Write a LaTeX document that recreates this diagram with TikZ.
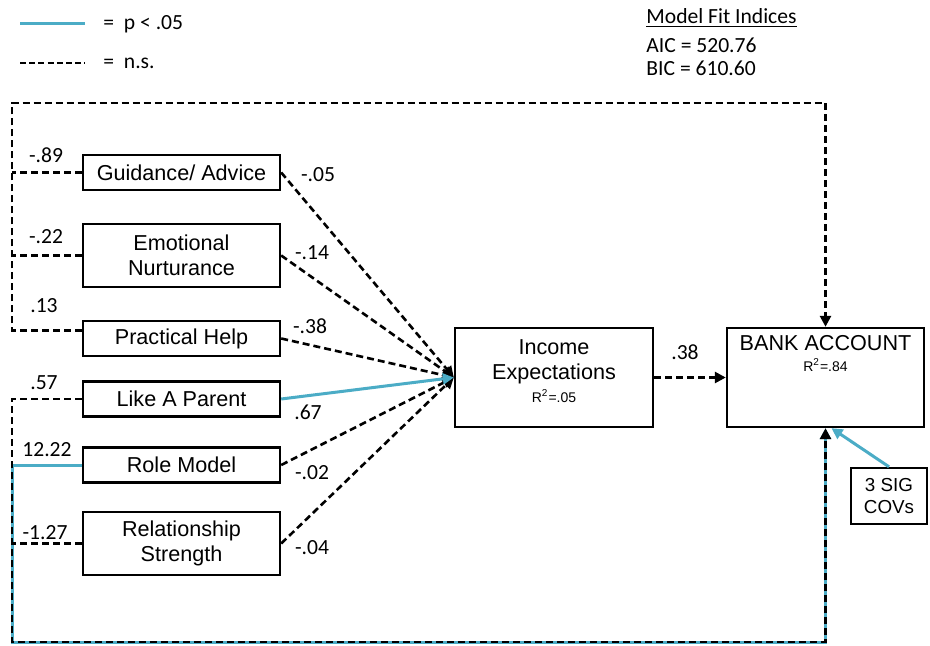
\documentclass[tikz,border=0pt]{standalone}
\usepackage{fontspec}
\setmainfont{Liberation Sans}
\newfontfamily\calibri{Carlito}
\usetikzlibrary{arrows.meta}
\definecolor{sigblue}{RGB}{75,172,198}

\begin{document}
\begin{tikzpicture}[x=0.5pt, y=-0.5pt,
  var/.style={draw=black, line width=1.2pt, minimum width=98.5pt, minimum height=17.5pt,
    inner sep=1pt, align=center, font=\fontsize{10.8}{12.5}\selectfont},
  ns/.style={black, line width=1.3pt, dash pattern=on 3.5pt off 2pt},
  sig/.style={sigblue, line width=1.5pt},
  coef/.style={font=\calibri\fontsize{10.8}{12}\selectfont, inner sep=0pt},
  tip/.style={-{Triangle[length=5.5pt, width=5.5pt]}}]

  \useasboundingbox (0,0) rectangle (930,646);

  % legend
  \coordinate (sigA) at (20,24);
  \coordinate (sigB) at (85,24);
  \coordinate (nsA) at (20,63);
  \coordinate (nsB) at (85,63);
  \draw[sig] (sigA) -- (sigB);
  \draw[black, line width=1.4pt, dash pattern=on 3pt off 1.6pt] (nsA) -- (nsB);
  \node[coef, anchor=west] at (103,24) {= \ p < .05};
  \node[coef, anchor=west] at (103,63) {= \ n.s.};

  \node[coef, anchor=west] at (646,18) {\underline{Model Fit Indices}};
  \node[coef, anchor=west] at (646,45) {AIC = 520.76};
  \node[coef, anchor=west] at (646,68) {BIC = 610.60};

  % predictors
  \node[var] (guide) at (181.5,172.5) {Guidance/ Advice};
  \node[var, minimum height=31.5pt] (emot) at (181.5,255.5) {Emotional\\Nurturance};
  \node[var] (prac) at (181.5,338.5) {Practical Help};
  \node[var] (parent) at (181.5,399) {Like A Parent};
  \node[var] (role) at (181.5,465) {Role Model};
  \node[var, minimum height=31.5pt] (rel) at (181.5,543.5) {Relationship\\Strength};

  % outcomes
  \node[var, minimum width=99pt, minimum height=49.5pt] (income) at (554,377.5) {};
  \node[below=3pt, align=center, font=\fontsize{10.8}{12.5}\selectfont] at (income.north)
    {Income\\Expectations\\[-1pt]{\fontsize{7}{8}\selectfont R\textsuperscript{2}=.05}};
  \node[var, minimum width=98.5pt, minimum height=49.5pt] (bank) at (825.5,377.5) {};
  \node[below=1pt, align=center, font=\fontsize{10.8}{12.5}\selectfont] at (bank.north)
    {BANK ACCOUNT\\[-2pt]{\fontsize{7}{8}\selectfont R\textsuperscript{2}=.84}};
  \node[var, minimum width=38pt, minimum height=28pt, font=\fontsize{9.4}{11}\selectfont]
    (covs) at (889,496) {3 SIG\\COVs};

  % paths to income expectations
  \foreach \src/\val/\lx/\ly in {guide/-.05/318/175, emot/-.14/312/253, prac/-.38/310/326,
    role/-.02/312/473, rel/-.04/312/548}
  {
    \draw[ns, tip] (\src.east) -- (income.west);
    \node[coef] at (\lx,\ly) {\val};
  }
  \draw[sig, tip] (parent.east) -- (income.west);
  \node[coef] at (308,412) {.67};

  \draw[ns, tip] (income) -- (bank);
  \node[coef] at (685,352) {.38};

  % direct paths, top route
  \coordinate (tl) at (12,103);
  \draw[ns] (guide.west) -- (guide.west -| tl);
  \draw[ns] (emot.west) -- (emot.west -| tl);
  \draw[ns, tip] ([yshift=4pt]prac.west) -| (tl) -| (bank.north);

  % direct paths, bottom route
  \coordinate (bl) at (12,642);
  \draw[sig, tip] (role.west) -| (bl) -| (bank.south);
  \draw[ns, tip] (parent.west) -| (bl) -| (bank.south);
  \draw[ns] (rel.west) -- (rel.west -| bl);

  \foreach \val/\lx/\ly in {-.89/46/155, -.22/46/237, .13/44/306, .57/44/383,
    12.22/47/450, -1.27/45/533}
    \node[coef] at (\lx,\ly) {\val};

  \draw[sig, tip] (covs.north) -- ([xshift=3pt]bank.south);

\end{tikzpicture}
\end{document}
